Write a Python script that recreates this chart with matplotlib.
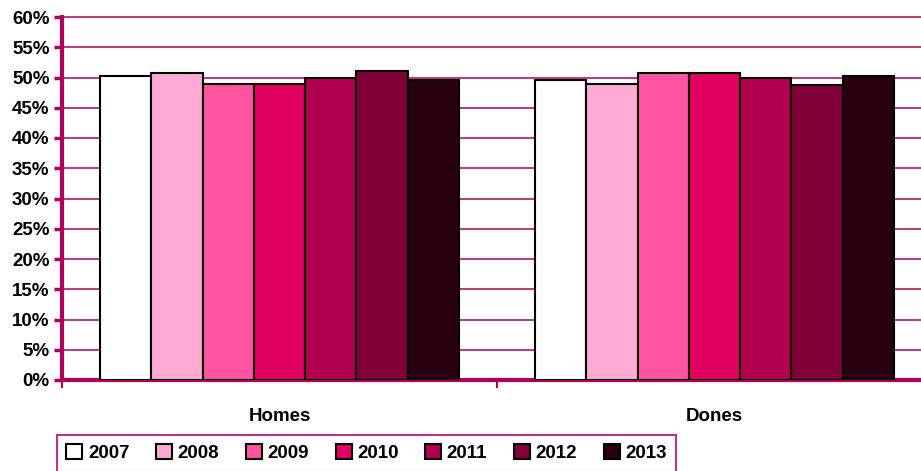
import numpy as np
import matplotlib.pyplot as plt
from matplotlib.ticker import FixedLocator

# dades
categories = ["Homes", "Dones"]
years = ["2007", "2008", "2009", "2010", "2011", "2012", "2013"]
homes = [50.2, 50.8, 49.0, 49.0, 49.9, 51.1, 49.6]
dones = [49.6, 49.0, 50.8, 50.8, 49.9, 48.7, 50.3]
colors = ["#FFFFFF", "#FFAAD4", "#FF55A0", "#E00060", "#B0004E", "#800038", "#280010"]
crimson = "#B0005A"

plt.rcParams["font.family"] = ["Liberation Sans", "DejaVu Sans"]
plt.rcParams["font.weight"] = "bold"

fig = plt.figure(figsize=(9.21, 4.71), dpi=100)
ax = fig.add_axes([62 / 921, 1 - 380 / 471, 870 / 921, (380 - 17) / 471])

x = np.arange(len(categories))
w = 0.118
for i, yr in enumerate(years):
    vals = [homes[i], dones[i]]
    ax.bar(x + (i - 3) * w, vals, width=w, color=colors[i], edgecolor="black",
           linewidth=1.5, label=yr, zorder=3)

ax.set_xlim(-0.5, 1.5)
ax.set_ylim(0, 60)
ax.set_yticks(range(0, 61, 5))
ax.set_yticklabels([f"{v}%" for v in range(0, 61, 5)], fontsize=13.5, fontweight="bold")
ax.yaxis.grid(True, color=crimson, linewidth=1.1, zorder=0)
for gl in ax.get_ygridlines():
    gl.set_clip_on(False)

ax.set_xticks(x)
ax.set_xticklabels(categories, fontsize=13.5, fontweight="bold")
ax.tick_params(axis="x", which="major", length=0, pad=20)
ax.xaxis.set_minor_locator(FixedLocator([-0.5, 0.5, 1.5]))
ax.tick_params(axis="x", which="minor", length=6, width=1.5, color=crimson, direction="out")
ax.tick_params(axis="y", length=6, width=2.5, color=crimson, direction="out", pad=3)

for s in ["top", "right"]:
    ax.spines[s].set_visible(False)
for s in ["left", "bottom"]:
    ax.spines[s].set_color(crimson)
    ax.spines[s].set_linewidth(3)

leg = fig.legend(loc="upper left", bbox_to_anchor=(57 / 921, 1 - 435 / 471), ncol=7,
                 prop={"weight": "bold", "size": 13.5}, frameon=True, fancybox=False,
                 handlelength=0.85, handleheight=0.85, handletextpad=0.3, columnspacing=1.42,
                 borderpad=0.5, borderaxespad=0)
leg.get_frame().set_edgecolor(crimson)
leg.get_frame().set_linewidth(1.5)

fig.savefig("out.png", dpi=100)
